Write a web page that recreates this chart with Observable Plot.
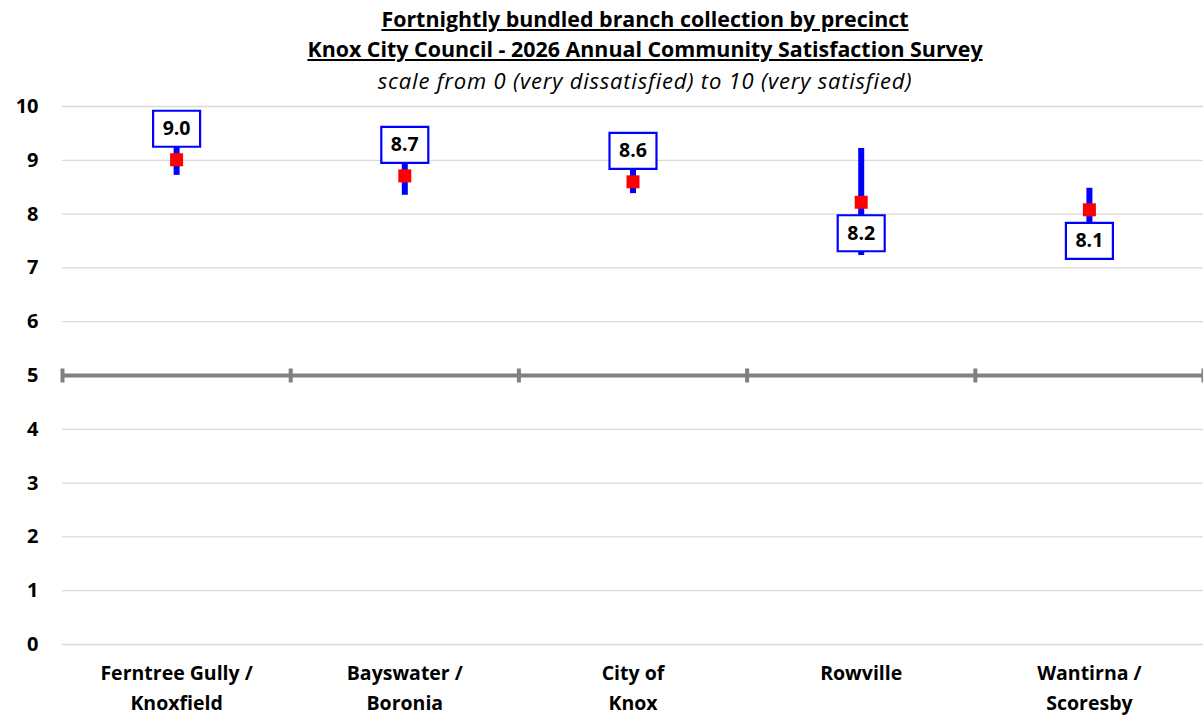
<!DOCTYPE html>
<html>
<head>
<meta charset="utf-8">
<script src="https://cdn.jsdelivr.net/npm/d3@7"></script>
<script src="https://cdn.jsdelivr.net/npm/@observablehq/plot@0.6"></script>
<style>
  body { margin: 0; background: #fff; font-family: "Open Sans", Lato, sans-serif; }
  #wrap { position: relative; width: 1203px; height: 715px; }
  .t { position: absolute; left: 0; width: 1290px; text-align: center; color: #000; white-space: nowrap; line-height: 1; }
  #t1 { top: 8px; font-weight: bold; font-size: 21.4px; text-decoration: underline; }
  #t2 { top: 38px; font-weight: bold; font-size: 21.4px; text-decoration: underline; }
  #t3 { top: 69px; font-style: italic; font-size: 22px; letter-spacing: 0.8px; }
</style>
</head>
<body>
<div id="wrap">
  <div id="chart"></div>
  <div class="t" id="t1">Fortnightly bundled branch collection by precinct</div>
  <div class="t" id="t2">Knox City Council - 2026 Annual Community Satisfaction Survey</div>
  <div class="t" id="t3">scale from 0 (very dissatisfied) to 10 (very satisfied)</div>
</div>
<script>
const categories = ["Ferntree Gully /\nKnoxfield", "Bayswater /\nBoronia", "City of\nKnox", "Rowville", "Wantirna /\nScoresby"];
const means = [9.01, 8.71, 8.60, 8.22, 8.08];
const lower = [8.72, 8.35, 8.38, 7.23, 7.70];
const upper = [9.28, 9.07, 8.82, 9.22, 8.48];
const labelPlacement = ["above", "above", "above", "below", "below"];
const yTicks = [0, 1, 2, 3, 4, 5, 6, 7, 8, 9, 10];
const midpoint = 5;

const data = categories.map((c, i) => ({
  cat: c, idx: i + 0.5, mean: means[i], lo: lower[i], hi: upper[i],
  label: means[i].toFixed(1), above: labelPlacement[i] === "above"
}));
const boundaries = d3.range(categories.length + 1);

const boxSymbol = { draw(ctx) { ctx.rect(-23.5, -18, 47, 36); } };
const squareSymbol = { draw(ctx) { ctx.rect(-6.5, -6.5, 13, 13); } };
const tickSymbol = { draw(ctx) { ctx.moveTo(0, -7); ctx.lineTo(0, 7); } };

const font = "'Open Sans', Lato, sans-serif";

const chart = Plot.plot({
  width: 1203,
  height: 715,
  marginLeft: 62,
  marginRight: 0,
  marginTop: 106,
  marginBottom: 71,
  style: { fontFamily: font, background: "#fff" },
  x: { type: "linear", domain: [0, categories.length], axis: null },
  y: { domain: [0, 10], axis: null },
  marks: [
    Plot.gridY(yTicks.filter(d => d !== midpoint), { stroke: "#d9d9d9", strokeOpacity: 1, strokeWidth: 1.3 }),
    Plot.axisY(yTicks, { tickSize: 0, tickPadding: 24, tickFormat: d => String(d), fontSize: 20, fontWeight: "bold", fill: "#000", label: null }),
    Plot.ruleY([midpoint], { stroke: "#808080", strokeWidth: 4 }),
    Plot.dot(boundaries, { x: d => d, y: () => midpoint, symbol: tickSymbol, stroke: "#808080", strokeWidth: 4, fill: "none", r: 1 }),
    Plot.ruleX(data, { x: "idx", y1: "lo", y2: "hi", stroke: "#0000ff", strokeWidth: 6 }),
    Plot.dot(data, { x: "idx", y: "mean", symbol: squareSymbol, fill: "#ff0000", stroke: "none", r: 1 }),
    Plot.dot(data.filter(d => d.above), { x: "idx", y: "mean", symbol: boxSymbol, fill: "#fff", stroke: "#0000ff", strokeWidth: 2.2, r: 1, dy: -31 }),
    Plot.dot(data.filter(d => !d.above), { x: "idx", y: "mean", symbol: boxSymbol, fill: "#fff", stroke: "#0000ff", strokeWidth: 2.2, r: 1, dy: 31 }),
    Plot.text(data.filter(d => d.above), { x: "idx", y: "mean", text: "label", dy: -31, fontSize: 19.5, fontWeight: "bold", fill: "#000" }),
    Plot.text(data.filter(d => !d.above), { x: "idx", y: "mean", text: "label", dy: 31, fontSize: 19.5, fontWeight: "bold", fill: "#000" }),
    Plot.text(data, { x: "idx", text: "cat", frameAnchor: "bottom", lineAnchor: "top", dy: 15, lineHeight: 1.5, fontSize: 19.5, fontWeight: "bold", fill: "#000" })
  ]
});
document.getElementById("chart").appendChild(chart);
</script>
</body>
</html>
